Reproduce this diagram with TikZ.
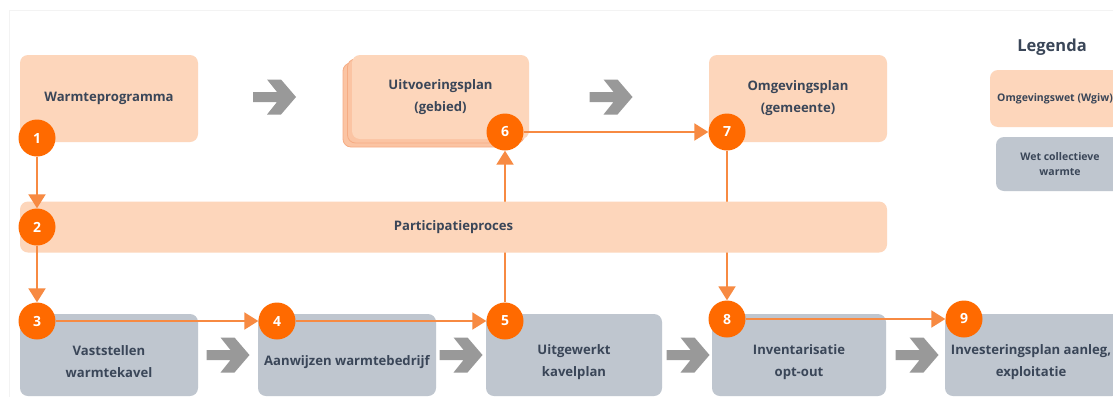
\documentclass[tikz,border=0pt]{standalone}
\usepackage{fontspec}
\setmainfont{Open Sans}
\usetikzlibrary{arrows.meta}
\definecolor{peach}{RGB}{253,214,187}
\definecolor{peachdark}{RGB}{251,196,163}
\definecolor{peachedge}{RGB}{246,172,132}
\definecolor{slate}{RGB}{191,198,207}
\definecolor{txt}{RGB}{58,70,88}
\definecolor{orng}{RGB}{255,106,0}
\definecolor{oline}{RGB}{247,138,66}
\definecolor{agray}{RGB}{153,153,153}
\definecolor{framec}{RGB}{243,243,243}
\pgfdeclarelayer{paper}
\pgfdeclarelayer{bg}
\pgfdeclarelayer{hidden}
\pgfdeclarelayer{barlayer}
\pgfsetlayers{paper,bg,hidden,barlayer,main}
\begin{document}
\begin{tikzpicture}[x=1pt,y=-1pt,
  mainfont/.style={font=\fontsize{13.1}{22}\selectfont\bfseries},
  box/.style={rounded corners=8pt, inner sep=0pt, text=txt, align=center, mainfont},
  pbox/.style={box, fill=peach},
  gbox/.style={box, fill=slate},
  stackbox/.style={rounded corners=8pt, inner sep=0pt, fill=peachdark, draw=peachedge, line width=0.8pt},
  lbl/.style={text=txt, align=center, inner sep=0pt, mainfont},
  num/.style={circle, fill=orng, minimum size=37pt, inner sep=0pt, text=white, font=\fontsize{14}{16}\selectfont\bfseries},
  conn/.style={draw=oline, line width=2pt, -{Triangle[width=17pt,length=14pt]}},
  garrow/.pic={\fill[agray] (-21.5,-5) -- (2.5,-5) -- (-7.5,-17.5) -- (6.5,-17.5) -- (21.5,0) -- (6.5,17.5) -- (-7.5,17.5) -- (2.5,5) -- (-21.5,5) -- cycle;}
]
\useasboundingbox (0,0) rectangle (1113,397);
\begin{pgfonlayer}{paper}
\fill[white] (0,0) rectangle (1113,397);
\draw[framec, line width=1pt] (9,397) -- (9,10) -- (1113,10);
\end{pgfonlayer}

\begin{pgfonlayer}{bg}
% top row
\node[pbox, minimum width=178pt, minimum height=87pt] (wp) at (109,98.5) {Warmteprogramma};
\node[stackbox, minimum width=177pt, minimum height=84pt] (uvb2) at (431.5,105) {};
\node[stackbox, minimum width=177pt, minimum height=84pt] (uvb1) at (436,101) {};
\node[pbox, minimum width=177pt, minimum height=84pt] (uv) at (440.5,97) {Uitvoeringsplan\\(gebied)};
\node[pbox, minimum width=178pt, minimum height=87pt] (og) at (798,98.5) {Omgevingsplan\\(gemeente)};
% legend
\node[text=txt, inner sep=0pt, font=\fontsize{16.5}{18}\selectfont\bfseries] (leg) at (1052,47) {Legenda};
\node[box, fill=peach, minimum width=130pt, minimum height=57pt, font=\fontsize{10.5}{15}\selectfont\bfseries] (leg1) at (1055,98.5) {Omgevingswet (Wgiw)};
\node[box, fill=slate, minimum width=128pt, minimum height=54pt, font=\fontsize{10.5}{15}\selectfont\bfseries] (leg2) at (1060,164) {Wet collectieve\\warmte};
% bottom row
\node[gbox, minimum width=178pt, minimum height=82pt] (b3) at (109,355) {};
\node[gbox, minimum width=178pt, minimum height=82pt] (b4) at (347,355) {};
\node[gbox, minimum width=176pt, minimum height=82pt] (b5) at (574,355) {};
\node[gbox, minimum width=174pt, minimum height=82pt] (b8) at (799,355) {};
\node[gbox, minimum width=175pt, minimum height=82pt] (b9) at (1032.5,355) {};
\node[lbl] (t3) at (109,362) {Vaststellen\\warmtekavel};
\node[lbl] (t4) at (347,362) {Aanwijzen warmtebedrijf};
\node[lbl] (t5) at (574,362) {Uitgewerkt\\kavelplan};
\node[lbl] (t8) at (799,362) {Inventarisatie\\opt-out};
\node[lbl] (t9) at (1031,362) {Investeringsplan aanleg,\\exploitatie};
% grey arrows
\pic at (274.5,97) {garrow};
\pic at (611,97) {garrow};
\pic at (228,355) {garrow};
\pic at (461,355) {garrow};
\pic at (688,355) {garrow};
\pic at (917,355) {garrow};
\end{pgfonlayer}

% number circles
\node[num] (c1) at (37,138) {1};
\node[num] (c2) at (37,227) {2};
\node[num] (c3) at (37,321) {3};
\node[num] (c4) at (277,321) {4};
\node[num] (c5) at (505,321) {5};
\node[num] (c6) at (505,132) {6};
\node[num] (c7) at (727,132) {7};
\node[num] (c8) at (727,319) {8};
\node[num] (c9) at (964,319) {9};

\begin{pgfonlayer}{hidden}
\draw[conn] (c5) -- (c6);
\draw[conn] (c7) -- (c8);
\end{pgfonlayer}

\begin{pgfonlayer}{barlayer}
\node[pbox, minimum width=867pt, minimum height=51pt] (bar) at (453.5,227) {Participatieproces};
\end{pgfonlayer}

\draw[conn] (c1) -- (c2);
\draw[conn] (c2) -- (c3);
\draw[conn] (c3) -- (c4);
\draw[conn] (c4) -- (c5);
\draw[conn] (c6) -- (c7);
\draw[conn] (c8) -- (c9);
\end{tikzpicture}
\end{document}
